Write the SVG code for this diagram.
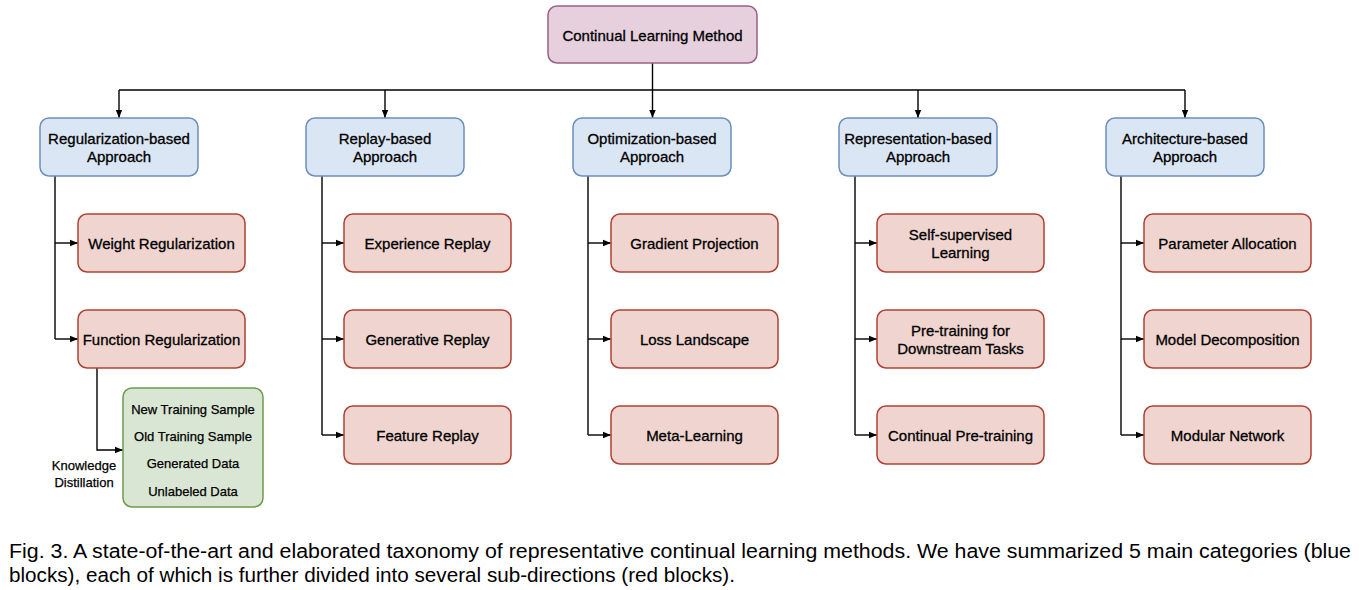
<svg xmlns="http://www.w3.org/2000/svg" width="1363" height="590" viewBox="0 0 1363 590">
<defs>
<marker id="arr" markerUnits="userSpaceOnUse" markerWidth="8" markerHeight="8" viewBox="0 0 8 8" refX="8" refY="4" orient="auto">
<path d="M0,0.8 L8,4 L0,7.2 Z" fill="#000"/>
</marker>
<style>
rect{stroke-width:1.5}
.root{fill:#e6d0de;stroke:#996185}
.blue{fill:#dae6f4;stroke:#6c8ebf}
.red{fill:#efd4cf;stroke:#ae4132}
.green{fill:#d9e6d4;stroke:#6d9a4a}
.t{font-family:"Liberation Sans",Arial,sans-serif;font-size:15px;fill:#000;stroke:#000;stroke-width:0.3;text-anchor:middle}
.s{font-family:"Liberation Sans",Arial,sans-serif;font-size:13px;fill:#000;stroke:#000;stroke-width:0.25;text-anchor:middle}
.cap{font-family:"Liberation Sans",Arial,sans-serif;font-size:20px;fill:#000}
.c{fill:none;stroke:#000;stroke-width:1.4}
.a{marker-end:url(#arr)}
</style>
</defs>
<g id="connectors">
<path class="c" d="M652.5,63 V90"/>
<path class="c" d="M119,90 H1185"/>
<path class="c a" d="M119,90 V118"/>
<path class="c a" d="M385,90 V118"/>
<path class="c a" d="M652.5,90 V118"/>
<path class="c a" d="M918,90 V118"/>
<path class="c a" d="M1185,90 V118"/>
<path class="c" d="M55,176 V339"/>
<path class="c a" d="M55,243 H78"/>
<path class="c a" d="M55,339 H78"/>
<path class="c a" d="M97,368 V450 H123"/>
<path class="c" d="M322,176 V435"/>
<path class="c a" d="M322,243 H344"/>
<path class="c a" d="M322,339 H344"/>
<path class="c a" d="M322,435 H344"/>
<path class="c" d="M588,176 V435"/>
<path class="c a" d="M588,243 H611"/>
<path class="c a" d="M588,339 H611"/>
<path class="c a" d="M588,435 H611"/>
<path class="c" d="M855,176 V435"/>
<path class="c a" d="M855,243 H877"/>
<path class="c a" d="M855,339 H877"/>
<path class="c a" d="M855,435 H877"/>
<path class="c" d="M1121,176 V435"/>
<path class="c a" d="M1121,243 H1144"/>
<path class="c a" d="M1121,339 H1144"/>
<path class="c a" d="M1121,435 H1144"/>
</g>
<g id="root"><rect class="root" x="548" y="6" width="209" height="57" rx="9"/><text class="t" x="652.5" y="41">Continual Learning Method</text></g>
<g id="regularization"><rect class="blue" x="40" y="118" width="158" height="58" rx="9"/><text class="t" x="119" y="144">Regularization-based</text><text class="t" x="119" y="162">Approach</text></g>
<g id="replay"><rect class="blue" x="306" y="118" width="158" height="58" rx="9"/><text class="t" x="385" y="144">Replay-based</text><text class="t" x="385" y="162">Approach</text></g>
<g id="optimization"><rect class="blue" x="573" y="118" width="158" height="58" rx="9"/><text class="t" x="652" y="144">Optimization-based</text><text class="t" x="652" y="162">Approach</text></g>
<g id="representation"><rect class="blue" x="839" y="118" width="158" height="58" rx="9"/><text class="t" x="918" y="144">Representation-based</text><text class="t" x="918" y="162">Approach</text></g>
<g id="architecture"><rect class="blue" x="1106" y="118" width="158" height="58" rx="9"/><text class="t" x="1185" y="144">Architecture-based</text><text class="t" x="1185" y="162">Approach</text></g>
<g id="weight-reg"><rect class="red" x="78" y="214" width="167" height="58" rx="9"/><text class="t" x="161.5" y="249">Weight Regularization</text></g>
<g id="function-reg"><rect class="red" x="78" y="310" width="167" height="58" rx="9"/><text class="t" x="161.5" y="345">Function Regularization</text></g>
<g id="data"><rect class="green" x="123" y="388" width="140" height="119" rx="9"/><text class="s" x="193" y="413.5">New Training Sample</text><text class="s" x="193" y="440.5">Old Training Sample</text><text class="s" x="193" y="467.5">Generated Data</text><text class="s" x="193" y="495.5">Unlabeled Data</text></g>
<g id="kd-label"><text class="s" x="84" y="469.5">Knowledge</text><text class="s" x="84" y="486.5">Distillation</text></g>
<g id="experience"><rect class="red" x="344" y="214" width="167" height="58" rx="9"/><text class="t" x="427.5" y="249">Experience Replay</text></g>
<g id="generative"><rect class="red" x="344" y="310" width="167" height="58" rx="9"/><text class="t" x="427.5" y="345">Generative Replay</text></g>
<g id="feature"><rect class="red" x="344" y="406" width="167" height="58" rx="9"/><text class="t" x="427.5" y="441">Feature Replay</text></g>
<g id="gradient"><rect class="red" x="611" y="214" width="167" height="58" rx="9"/><text class="t" x="694.5" y="249">Gradient Projection</text></g>
<g id="loss"><rect class="red" x="611" y="310" width="167" height="58" rx="9"/><text class="t" x="694.5" y="345">Loss Landscape</text></g>
<g id="meta"><rect class="red" x="611" y="406" width="167" height="58" rx="9"/><text class="t" x="694.5" y="441">Meta-Learning</text></g>
<g id="selfsup"><rect class="red" x="877" y="214" width="167" height="58" rx="9"/><text class="t" x="960.5" y="240">Self-supervised</text><text class="t" x="960.5" y="258">Learning</text></g>
<g id="pretrain"><rect class="red" x="877" y="310" width="167" height="58" rx="9"/><text class="t" x="960.5" y="336">Pre-training for</text><text class="t" x="960.5" y="354">Downstream Tasks</text></g>
<g id="continual-pt"><rect class="red" x="877" y="406" width="167" height="58" rx="9"/><text class="t" x="960.5" y="441">Continual Pre-training</text></g>
<g id="param"><rect class="red" x="1144" y="214" width="167" height="58" rx="9"/><text class="t" x="1227.5" y="249">Parameter Allocation</text></g>
<g id="decomp"><rect class="red" x="1144" y="310" width="167" height="58" rx="9"/><text class="t" x="1227.5" y="345">Model Decomposition</text></g>
<g id="modular"><rect class="red" x="1144" y="406" width="167" height="58" rx="9"/><text class="t" x="1227.5" y="441">Modular Network</text></g>
<g id="caption">
<text class="cap" x="9" y="557.5" textLength="1342" lengthAdjust="spacingAndGlyphs">Fig. 3. A state-of-the-art and elaborated taxonomy of representative continual learning methods. We have summarized 5 main categories (blue</text>
<text class="cap" x="9" y="582" textLength="726" lengthAdjust="spacingAndGlyphs">blocks), each of which is further divided into several sub-directions (red blocks).</text>
</g>
</svg>
